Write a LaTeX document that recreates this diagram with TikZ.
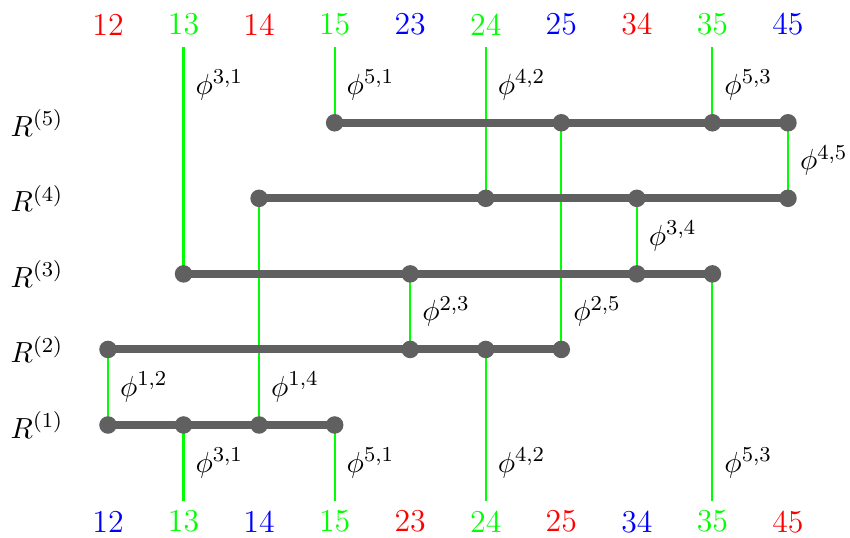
\documentclass[tikz,border=0pt]{standalone}
\definecolor{barg}{RGB}{96,96,96}
\tikzset{
  bar/.style={line width=3pt, draw=barg},
  dot/.style={circle, fill=barg, inner sep=0pt, minimum size=6.6pt},
  link/.style={draw=green, line width=0.8pt},
  lab/.style={anchor=west, xshift=1pt, font=\fontsize{10.95}{13.6}\selectfont},
  num/.style={font=\large},
  rlab/.style={anchor=center, font=\fontsize{10.95}{13.6}\selectfont},
}
\begin{document}
\begin{tikzpicture}
\useasboundingbox (-1.4295,-1.4957) rectangle (9.821,5.625);
% top numbers
\foreach \t/\c/\i in {12/red/0,13/green/1,14/red/2,15/green/3,23/blue/4,24/green/5,25/blue/6,34/red/7,35/green/8,45/blue/9}
  \node[num,text=\c] (top\i) at (\i,5.3) {\t};
% bottom numbers
\foreach \t/\c/\i in {12/blue/0,13/green/1,14/blue/2,15/green/3,23/red/4,24/green/5,25/red/6,34/blue/7,35/green/8,45/red/9}
  \node[num,text=\c] (bot\i) at (\i,-1.28) {\t};
% row labels
\foreach \r in {1,...,5}
  \node[rlab] (R\r) at (-0.94,\r-1) {$R^{(\r)}$};
% dots
\foreach \r/\cols in {5/{3,6,8,9},4/{2,5,7,9},3/{1,4,7,8},2/{0,4,5,6},1/{0,1,2,3}}
  \foreach \c in \cols
    \coordinate (q\r c\c) at (\c,\r-1);
% free ends
\coordinate (t1) at (1,5);
\coordinate (t3) at (3,5);
\coordinate (t5) at (5,5);
\coordinate (t8) at (8,5);
\coordinate (b1) at (1,-1);
\coordinate (b3) at (3,-1);
\coordinate (b5) at (5,-1);
\coordinate (b8) at (8,-1);
% green links
\draw[link] (t1) -- (q3c1);
\draw[link] (t3) -- (q5c3);
\draw[link] (t5) -- (q4c5);
\draw[link] (t8) -- (q5c8);
\draw[link] (q5c9) -- (q4c9);
\draw[link] (q4c7) -- (q3c7);
\draw[link] (q5c6) -- (q2c6);
\draw[link] (q3c4) -- (q2c4);
\draw[link] (q4c2) -- (q1c2);
\draw[link] (q2c0) -- (q1c0);
\draw[link] (q1c1) -- (b1);
\draw[link] (q1c3) -- (b3);
\draw[link] (q2c5) -- (b5);
\draw[link] (q3c8) -- (b8);
% labels
\node[lab] (l1) at (1,4.5) {$\phi^{3,1}$};
\node[lab] (l2) at (3,4.5) {$\phi^{5,1}$};
\node[lab] (l3) at (5,4.5) {$\phi^{4,2}$};
\node[lab] (l4) at (8,4.5) {$\phi^{5,3}$};
\node[lab] (l5) at (9,3.5) {$\phi^{4,5}$};
\node[lab] (l6) at (7,2.5) {$\phi^{3,4}$};
\node[lab] (l7) at (6,1.5) {$\phi^{2,5}$};
\node[lab] (l8) at (4,1.5) {$\phi^{2,3}$};
\node[lab] (l9) at (2,0.5) {$\phi^{1,4}$};
\node[lab] (l10) at (0,0.5) {$\phi^{1,2}$};
\node[lab] (l11) at (1,-0.5) {$\phi^{3,1}$};
\node[lab] (l12) at (3,-0.5) {$\phi^{5,1}$};
\node[lab] (l13) at (5,-0.5) {$\phi^{4,2}$};
\node[lab] (l14) at (8,-0.5) {$\phi^{5,3}$};
% bars
\draw[bar] (q5c3) -- (q5c9);
\draw[bar] (q4c2) -- (q4c9);
\draw[bar] (q3c1) -- (q3c8);
\draw[bar] (q2c0) -- (q2c6);
\draw[bar] (q1c0) -- (q1c3);
% dot nodes
\foreach \r/\cols in {5/{3,6,8,9},4/{2,5,7,9},3/{1,4,7,8},2/{0,4,5,6},1/{0,1,2,3}}
  \foreach \c in \cols
    \node[dot] (d\r c\c) at (q\r c\c) {};
\end{tikzpicture}
\end{document}
